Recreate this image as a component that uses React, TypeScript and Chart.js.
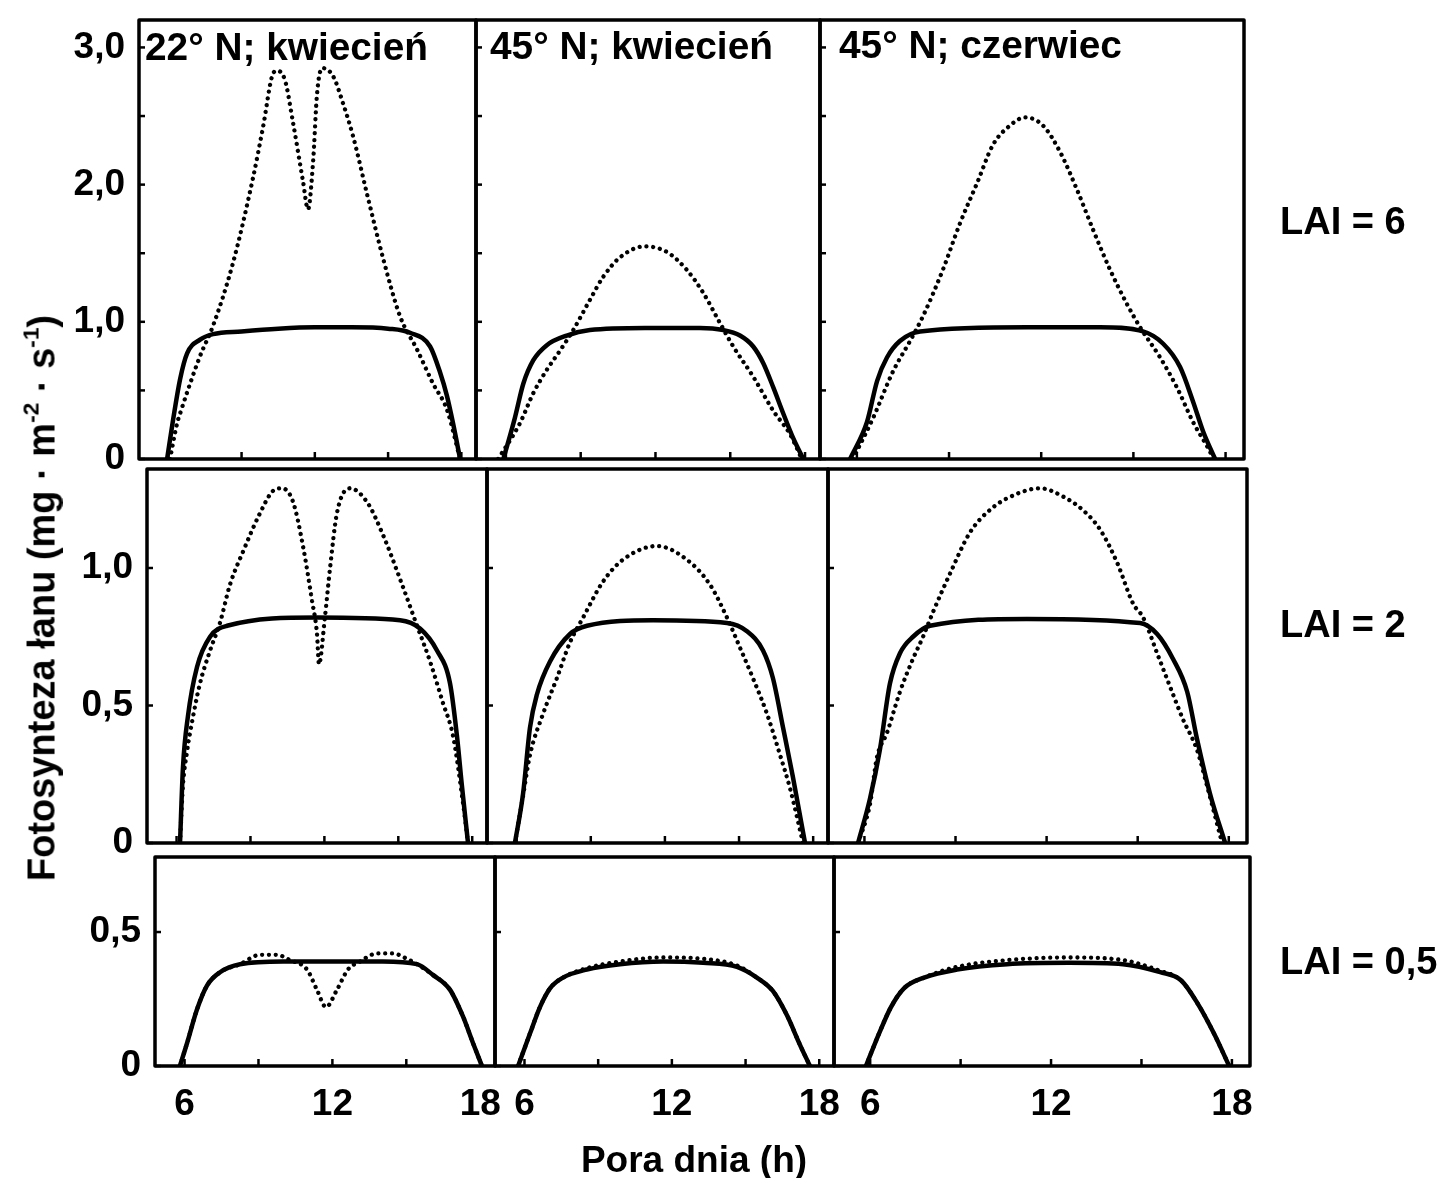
import React, { useEffect, useRef } from 'react';
import { Chart, registerables } from 'chart.js';

Chart.register(...registerables);

// ---------------- data ----------------
const colTitles = ['22° N; kwiecień', '45° N; kwiecień', '45° N; czerwiec'];
const rowLabels = ['LAI = 6', 'LAI = 2', 'LAI = 0,5'];
const xAxisTitle = 'Pora dnia (h)';

const hourMin = 4.8;
const hourMax = 18.6;
const xTicks = [6, 9, 12, 15, 18];
const xLabelled = [6, 12, 18];

const yMaxByRow = [3.2, 1.36, 0.78];
const yTicksTop = [0, 0.5, 1, 1.5, 2, 2.5, 3];
const yLabelledTop = [0, 1, 2, 3];
const yTicksMid = [0, 0.5, 1];
const yLabelledMid = [0, 0.5, 1];
const yTicksBot = [0, 0.5];
const yLabelledBot = [0, 0.5];

// LAI = 6, 22° N, kwiecień
const h_lai6_22apr_solid = [5.95, 6.2, 6.48, 6.77, 7.3, 7.83, 9.0, 10.5, 12.0, 13.5, 15.0, 15.9, 16.72, 17.13, 17.41, 17.66, 17.95];
const v_lai6_22apr_solid = [0, 0.29, 0.58, 0.77, 0.87, 0.91, 0.93, 0.95, 0.96, 0.96, 0.95, 0.92, 0.82, 0.63, 0.46, 0.26, 0];
const h_lai6_22apr_dot = [6.07, 6.36, 6.48, 7.3, 7.83, 8.65, 9.47, 9.88, 10.29, 10.45, 10.78, 11.1, 11.52, 11.72, 11.93, 12.09, 12.3, 12.75, 13.16, 13.57, 14.14, 14.8, 15.49, 16.18, 16.84, 17.41, 17.95];
const v_lai6_22apr_dot = [0, 0.26, 0.33, 0.75, 0.97, 1.43, 2.05, 2.42, 2.81, 2.83, 2.76, 2.46, 2.02, 1.82, 2.17, 2.66, 2.85, 2.79, 2.59, 2.35, 1.93, 1.46, 1.04, 0.8, 0.55, 0.36, 0];

// LAI = 6, 45° N, kwiecień
const h_lai6_45apr_solid = [5.9, 6.36, 6.7, 7.1, 7.64, 8.44, 9.37, 11.58, 13.78, 14.72, 15.39, 15.92, 16.32, 16.73, 17.13, 17.53, 17.93];
const v_lai6_45apr_solid = [0, 0.3, 0.55, 0.72, 0.83, 0.9, 0.94, 0.955, 0.955, 0.94, 0.9, 0.82, 0.7, 0.52, 0.33, 0.15, 0];
const h_lai6_45apr_dot = [5.69, 6.56, 7.1, 7.64, 8.17, 8.7, 9.37, 9.91, 10.58, 11.58, 12.45, 13.25, 13.92, 14.59, 15.12, 15.92, 16.73, 17.4, 17.87];
const v_lai6_45apr_dot = [0, 0.26, 0.48, 0.65, 0.79, 0.94, 1.16, 1.33, 1.47, 1.55, 1.51, 1.38, 1.21, 0.99, 0.82, 0.6, 0.35, 0.18, 0];

// LAI = 6, 45° N, czerwiec
const h_lai6_45jun_solid = [5.78, 6.33, 6.66, 6.98, 7.4, 8.06, 11.54, 13.91, 15.31, 15.97, 16.52, 16.94, 17.27, 17.66];
const v_lai6_45jun_solid = [0, 0.27, 0.57, 0.74, 0.86, 0.93, 0.96, 0.96, 0.93, 0.84, 0.67, 0.42, 0.2, 0];
const h_lai6_45jun_dot = [5.87, 6.53, 7.18, 7.73, 8.15, 8.8, 9.36, 9.91, 10.43, 10.98, 11.47, 12.06, 12.61, 13.17, 13.69, 14.24, 14.79, 15.22, 15.87, 16.42, 16.94, 17.5, 17.6];
const v_lai6_45jun_dot = [0, 0.3, 0.64, 0.86, 1.04, 1.38, 1.72, 2.01, 2.29, 2.43, 2.49, 2.43, 2.24, 1.96, 1.67, 1.38, 1.13, 0.96, 0.74, 0.52, 0.27, 0.05, 0];

// LAI = 2, 22° N, kwiecień
const h_lai2_22apr_solid = [6.14, 6.26, 6.46, 6.83, 7.36, 8.05, 11.7, 15.07, 15.88, 16.57, 17.1, 17.38, 17.58, 17.83];
const v_lai2_22apr_solid = [0, 0.275, 0.46, 0.64, 0.75, 0.79, 0.82, 0.81, 0.78, 0.7, 0.58, 0.39, 0.21, 0];
const h_lai2_22apr_dot = [6.14, 6.26, 6.42, 6.67, 6.95, 7.36, 7.76, 8.17, 8.7, 9.39, 9.91, 10.28, 10.73, 11.13, 11.5, 11.7, 11.78, 12.02, 12.23, 12.51, 13.04, 13.73, 14.38, 15.07, 15.76, 16.29, 16.81, 17.22, 17.62, 17.83];
const v_lai2_22apr_dot = [0, 0.21, 0.33, 0.46, 0.58, 0.7, 0.8, 0.94, 1.06, 1.2, 1.28, 1.29, 1.24, 1.08, 0.88, 0.76, 0.65, 0.82, 1.0, 1.2, 1.29, 1.24, 1.12, 0.96, 0.79, 0.66, 0.51, 0.39, 0.15, 0];

// LAI = 2, 45° N, kwiecień
const h_lai2_45apr_solid = [5.93, 6.26, 6.54, 6.82, 7.35, 8.16, 8.85, 11.52, 14.51, 15.32, 15.97, 16.37, 16.78, 17.18, 17.67];
const v_lai2_45apr_solid = [0, 0.18, 0.42, 0.54, 0.66, 0.76, 0.79, 0.81, 0.8, 0.77, 0.7, 0.6, 0.42, 0.24, 0];
const h_lai2_45apr_dot = [5.93, 6.22, 6.54, 7.07, 7.63, 8.16, 8.69, 9.49, 10.3, 11.68, 12.89, 13.82, 14.51, 15.04, 15.56, 16.13, 16.66, 17.06, 17.59];
const v_lai2_45apr_dot = [0, 0.15, 0.32, 0.47, 0.6, 0.73, 0.82, 0.95, 1.03, 1.08, 1.03, 0.94, 0.82, 0.71, 0.6, 0.47, 0.32, 0.2, 0];

// LAI = 2, 45° N, czerwiec
const h_lai2_45jun_solid = [5.79, 6.18, 6.51, 6.84, 7.17, 7.6, 8.16, 11.35, 15.08, 15.64, 16.16, 16.63, 16.95, 17.38, 17.88];
const v_lai2_45jun_solid = [0, 0.16, 0.34, 0.58, 0.69, 0.75, 0.79, 0.815, 0.8, 0.76, 0.67, 0.55, 0.38, 0.18, 0];
const h_lai2_45jun_dot = [5.79, 6.18, 6.41, 6.74, 7.17, 7.6, 7.93, 8.26, 8.82, 9.48, 10.23, 11.03, 11.78, 12.54, 13.2, 13.76, 14.32, 14.85, 15.18, 15.64, 16.06, 16.49, 16.95, 17.28, 17.78];
const v_lai2_45jun_dot = [0, 0.14, 0.31, 0.4, 0.55, 0.67, 0.75, 0.84, 0.98, 1.13, 1.22, 1.27, 1.29, 1.26, 1.21, 1.14, 1.02, 0.87, 0.82, 0.69, 0.57, 0.45, 0.34, 0.21, 0];

// LAI = 0,5, 22° N, kwiecień
const h_lai05_22apr_solid = [5.81, 6.1, 6.5, 6.91, 7.44, 8.25, 10.0, 12.02, 14.05, 15.43, 16.08, 16.77, 17.3, 17.71, 18.07];
const v_lai05_22apr_solid = [0, 0.085, 0.21, 0.3, 0.35, 0.38, 0.39, 0.39, 0.39, 0.38, 0.34, 0.285, 0.185, 0.085, 0];
const h_lai05_22apr_dot = [5.81, 6.1, 6.5, 6.91, 7.44, 8.25, 9.06, 9.75, 10.28, 10.97, 11.37, 11.74, 12.19, 12.63, 13.12, 13.81, 14.46, 15.03, 15.43, 16.08, 16.77, 17.3, 17.71, 18.07];
const v_lai05_22apr_dot = [0, 0.085, 0.21, 0.3, 0.35, 0.38, 0.415, 0.415, 0.395, 0.36, 0.285, 0.22, 0.285, 0.36, 0.39, 0.42, 0.42, 0.4, 0.38, 0.34, 0.285, 0.185, 0.085, 0];

// LAI = 0,5, 45° N, kwiecień
const h_lai05_45apr = [5.74, 6.22, 6.63, 7.04, 7.57, 8.54, 9.89, 11.64, 13.27, 14.65, 15.46, 16.11, 16.68, 17.21, 17.62];
const v_lai05_45apr_solid = [0, 0.12, 0.22, 0.29, 0.33, 0.36, 0.38, 0.39, 0.385, 0.37, 0.33, 0.28, 0.19, 0.08, 0];
const v_lai05_45apr_dot = [0, 0.12, 0.22, 0.29, 0.33, 0.365, 0.39, 0.405, 0.4, 0.375, 0.33, 0.28, 0.19, 0.08, 0];

// LAI = 0,5, 45° N, czerwiec
const h_lai05_45jun = [5.86, 6.29, 6.69, 7.12, 7.79, 8.88, 10.54, 12.6, 14.39, 15.62, 16.31, 16.88, 17.41, 17.91];
const v_lai05_45jun_solid = [0, 0.12, 0.22, 0.29, 0.33, 0.36, 0.38, 0.385, 0.38, 0.35, 0.32, 0.23, 0.12, 0];
const v_lai05_45jun_dot = [0, 0.12, 0.22, 0.29, 0.33, 0.37, 0.395, 0.405, 0.395, 0.355, 0.32, 0.23, 0.12, 0];

// ---------------- layout (positions only) ----------------
const ROW_X = [
  [139, 476, 820, 1244],
  [147, 487, 828, 1247],
  [155, 495, 834, 1250],
];
const ROW_Y = [
  [20, 459],
  [469, 843],
  [857, 1066],
];

const FONT_FAMILY = "'Liberation Sans', Arial, Helvetica, sans-serif";

const pts = (h: number[], v: number[]) => h.map((x, i) => ({ x, y: v[i] }));
const fmt = (v: number) => (v === 0 ? '0' : v.toFixed(1).replace('.', ','));

type PanelDef = {
  r: number;
  c: number;
  solid: { x: number; y: number }[];
  dotted: { x: number; y: number }[];
};

const panels: PanelDef[] = [
  { r: 0, c: 0, solid: pts(h_lai6_22apr_solid, v_lai6_22apr_solid), dotted: pts(h_lai6_22apr_dot, v_lai6_22apr_dot) },
  { r: 0, c: 1, solid: pts(h_lai6_45apr_solid, v_lai6_45apr_solid), dotted: pts(h_lai6_45apr_dot, v_lai6_45apr_dot) },
  { r: 0, c: 2, solid: pts(h_lai6_45jun_solid, v_lai6_45jun_solid), dotted: pts(h_lai6_45jun_dot, v_lai6_45jun_dot) },
  { r: 1, c: 0, solid: pts(h_lai2_22apr_solid, v_lai2_22apr_solid), dotted: pts(h_lai2_22apr_dot, v_lai2_22apr_dot) },
  { r: 1, c: 1, solid: pts(h_lai2_45apr_solid, v_lai2_45apr_solid), dotted: pts(h_lai2_45apr_dot, v_lai2_45apr_dot) },
  { r: 1, c: 2, solid: pts(h_lai2_45jun_solid, v_lai2_45jun_solid), dotted: pts(h_lai2_45jun_dot, v_lai2_45jun_dot) },
  { r: 2, c: 0, solid: pts(h_lai05_22apr_solid, v_lai05_22apr_solid), dotted: pts(h_lai05_22apr_dot, v_lai05_22apr_dot) },
  { r: 2, c: 1, solid: pts(h_lai05_45apr, v_lai05_45apr_solid), dotted: pts(h_lai05_45apr, v_lai05_45apr_dot) },
  { r: 2, c: 2, solid: pts(h_lai05_45jun, v_lai05_45jun_solid), dotted: pts(h_lai05_45jun, v_lai05_45jun_dot) },
];

const yTicksByRow = [yTicksTop, yTicksMid, yTicksBot];
const yLabelledByRow = [yLabelledTop, yLabelledMid, yLabelledBot];

const framePlugin = {
  id: 'panelFrame',
  afterDatasetsDraw(chart: any) {
    const { ctx, chartArea } = chart;
    const { left, top, right, bottom } = chartArea;
    ctx.save();
    ctx.strokeStyle = '#000';
    ctx.lineWidth = 2.5;
    const xs = chart.scales.x;
    for (const t of xs.ticks) {
      const px = xs.getPixelForValue(t.value);
      ctx.beginPath();
      ctx.moveTo(px, bottom);
      ctx.lineTo(px, bottom - 7);
      ctx.stroke();
    }
    const ys = chart.scales.y;
    for (const t of ys.ticks) {
      const py = ys.getPixelForValue(t.value);
      ctx.beginPath();
      ctx.moveTo(left, py);
      ctx.lineTo(left + 6, py);
      ctx.stroke();
    }
    ctx.lineWidth = 3.5;
    ctx.lineJoin = 'round';
    ctx.strokeRect(left, top, right - left, bottom - top);
    ctx.restore();
  },
};

function geometry(r: number, c: number) {
  const L = ROW_X[r][c];
  const R = ROW_X[r][c + 1];
  const T = ROW_Y[r][0];
  const B = ROW_Y[r][1];
  const ML = c === 0 ? L - 50 : 40;
  const MR = 40;
  const MT = 40;
  const MB = r === 2 ? 80 : 40;
  return {
    ML, MR, MT, MB,
    left: L - ML,
    top: T - MT,
    width: R - L + ML + MR,
    height: B - T + MT + MB,
  };
}

export default function App() {
  const refs = useRef<(HTMLCanvasElement | null)[]>([]);

  useEffect(() => {
    const charts: Chart[] = [];
    panels.forEach((p, i) => {
      const canvas = refs.current[i];
      if (!canvas) return;
      const g = geometry(p.r, p.c);
      const tickFont = { family: FONT_FAMILY, size: 37, weight: 'bold' as const };
      const yTicks = yTicksByRow[p.r];
      const yLab = yLabelledByRow[p.r];
      const chart = new Chart(canvas, {
        type: 'line',
        data: {
          datasets: [
            {
              data: p.solid,
              borderColor: '#000',
              borderWidth: 4.5,
              pointRadius: 0,
              fill: false,
              cubicInterpolationMode: 'monotone',
              borderCapStyle: 'round',
              borderJoinStyle: 'round',
            },
            {
              data: p.dotted,
              borderColor: '#000',
              borderWidth: 4.3,
              pointRadius: 0,
              fill: false,
              cubicInterpolationMode: 'monotone',
              borderCapStyle: 'round',
              borderDash: [0.01, 6.8],
            },
          ],
        },
        options: {
          responsive: false,
          animation: false,
          events: [],
          layout: { padding: { left: 0, top: g.MT, right: g.MR, bottom: 0 } },
          plugins: {
            legend: { display: false },
            tooltip: { enabled: false },
            title: { display: false },
          },
          scales: {
            x: {
              type: 'linear',
              min: hourMin,
              max: hourMax,
              grid: { display: false, drawTicks: false },
              border: { display: false },
              afterBuildTicks: (s: any) => {
                s.ticks = xTicks.map((value) => ({ value }));
              },
              afterFit: (s: any) => {
                s.height = g.MB;
              },
              ticks: {
                display: p.r === 2,
                padding: 17,
                maxRotation: 0,
                autoSkip: false,
                color: '#000',
                font: tickFont,
                callback: (v: any) => (xLabelled.includes(Number(v)) ? String(v) : ''),
              },
            },
            y: {
              type: 'linear',
              min: 0,
              max: yMaxByRow[p.r],
              grid: { display: false, drawTicks: false },
              border: { display: false },
              afterBuildTicks: (s: any) => {
                s.ticks = yTicks.map((value) => ({ value }));
              },
              afterFit: (s: any) => {
                s.width = g.ML;
              },
              ticks: {
                display: p.c === 0,
                padding: 14,
                autoSkip: false,
                color: '#000',
                font: tickFont,
                callback: (v: any) => (yLab.includes(Number(v)) ? fmt(Number(v)) : ''),
              },
            },
          },
        },
        plugins: [framePlugin],
      } as any);
      charts.push(chart);
    });
    return () => charts.forEach((c) => c.destroy());
  }, []);

  const textBase: React.CSSProperties = {
    position: 'absolute',
    fontFamily: FONT_FAMILY,
    fontWeight: 'bold',
    lineHeight: 1,
    whiteSpace: 'nowrap',
    color: '#000',
  };

  const titlePos = [
    { left: 145, top: 28 },
    { left: 490, top: 27 },
    { left: 839, top: 26 },
  ];
  const rowLabelTops = [202, 605, 942];

  return (
    <div style={{ position: 'absolute', left: 0, top: 0, width: 1448, height: 1178, background: '#fff', overflow: 'hidden' }}>
      {panels.map((p, i) => {
        const g = geometry(p.r, p.c);
        return (
          <canvas
            key={i}
            ref={(el) => {
              refs.current[i] = el;
            }}
            width={g.width}
            height={g.height}
            style={{ position: 'absolute', left: g.left, top: g.top, width: g.width, height: g.height }}
          />
        );
      })}
      {colTitles.map((t, i) => (
        <div key={'t' + i} style={{ ...textBase, fontSize: 38.8, left: titlePos[i].left, top: titlePos[i].top }}>
          {t}
        </div>
      ))}
      {rowLabels.map((t, i) => (
        <div key={'r' + i} style={{ ...textBase, fontSize: 38, left: 1280, top: rowLabelTops[i] }}>
          {t}
        </div>
      ))}
      <div style={{ ...textBase, fontSize: 37, left: 694, top: 1141, transform: 'translateX(-50%)' }}>{xAxisTitle}</div>
      <div
        style={{
          ...textBase,
          fontSize: 38,
          left: 40,
          top: 598,
          transform: 'translate(-50%, -50%) rotate(-90deg)',
        }}
      >
        Fotosynteza łanu (mg · m<sup style={{ fontSize: '0.6em', verticalAlign: '0.7em' }}>-2</sup> · s
        <sup style={{ fontSize: '0.6em', verticalAlign: '0.7em' }}>-1</sup>)
      </div>
    </div>
  );
}
